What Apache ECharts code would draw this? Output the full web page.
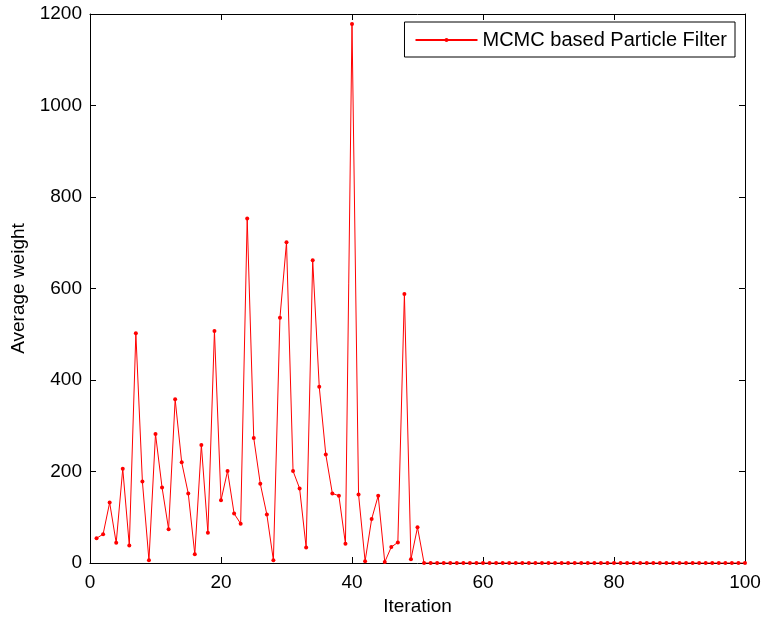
<!DOCTYPE html>
<html>
<head>
<meta charset="utf-8">
<script src="https://cdn.jsdelivr.net/npm/echarts@6/dist/echarts.min.js"></script>
<style>html,body{margin:0;padding:0;background:#fff}#c{width:762px;height:619px}</style>
</head>
<body>
<div id="c"></div>
<script>
const seriesName = 'MCMC based Particle Filter';
const xTicks = [0, 20, 40, 60, 80, 100];
const yTicks = [0, 200, 400, 600, 800, 1000, 1200];
const weightsFirst50 = [54, 63, 132, 44, 206, 38, 502, 178, 6, 282,
  165, 74, 358, 220, 152, 19, 258, 66, 507, 137,
  201, 108, 86, 753, 273, 173, 106, 6, 536, 701,
  201, 163, 34, 662, 385, 237, 152, 147, 42, 1178,
  150, 4, 96, 147, 2, 35, 45, 588, 8, 78];
const weightsLast50 = [0,0,0,0,0,0,0,0,0,0, 0,0,0,0,0,0,0,0,0,0,
  0,0,0,0,0,0,0,0,0,0, 0,0,0,0,0,0,0,0,0,0, 0,0,0,0,0,0,0,0,0,0];
const iterations = [];
for (let i = 1; i <= 100; i++) iterations.push(i);
const weights = weightsFirst50.concat(weightsLast50);
const data = iterations.map((x, i) => [x, weights[i]]);

const font = 'Liberation Sans';
const chart = echarts.init(document.getElementById('c'));
const axisCommon = {
  axisLine: {show: true, onZero: false, lineStyle: {color: '#000', width: 1}},
  axisTick: {show: true, inside: true, length: 6, lineStyle: {color: '#000'}},
  splitLine: {show: false}
};
chart.setOption({
  animation: false,
  backgroundColor: '#fff',
  textStyle: {fontFamily: font},
  grid: {left: 90, right: 17, top: 14, bottom: 56, containLabel: false, outerBoundsMode: 'none'},
  legend: {
    data: [{name: seriesName, itemStyle: {borderWidth: 0}}],
    right: 27, top: 22,
    orient: 'vertical',
    borderColor: '#000', borderWidth: 1,
    padding: [8, 8, 7, 10],
    itemWidth: 62, itemHeight: 5, itemGap: 0,
    textStyle: {fontFamily: font, fontSize: 20, color: '#000'}
  },
  xAxis: [
    Object.assign({type: 'value', min: 0, max: 100, interval: 20,
      name: 'Iteration', nameLocation: 'middle', nameGap: 34,
      nameTextStyle: {fontFamily: font, fontSize: 19, color: '#000'},
      axisLabel: {fontFamily: font, fontSize: 19, color: '#000', margin: 10}}, axisCommon),
    Object.assign({type: 'value', position: 'top', min: 0, max: 100, interval: 20,
      axisLabel: {show: false}}, axisCommon)
  ],
  yAxis: [
    Object.assign({type: 'value', min: 0, max: 1200, interval: 200,
      name: 'Average weight', nameLocation: 'middle', nameGap: 62,
      nameTextStyle: {fontFamily: font, fontSize: 19, color: '#000'},
      axisLabel: {fontFamily: font, fontSize: 19, color: '#000', margin: 8,
        formatter: v => String(v)}}, axisCommon),
    Object.assign({type: 'value', position: 'right', min: 0, max: 1200, interval: 200,
      axisLabel: {show: false}}, axisCommon)
  ],
  series: [{
    name: seriesName,
    type: 'line',
    data: data,
    symbol: 'circle',
    symbolSize: 4,
    showAllSymbol: true,
    itemStyle: {color: '#ff0000'},
    lineStyle: {color: '#ff0000', width: 1}
  }]
});
</script>
</body>
</html>
